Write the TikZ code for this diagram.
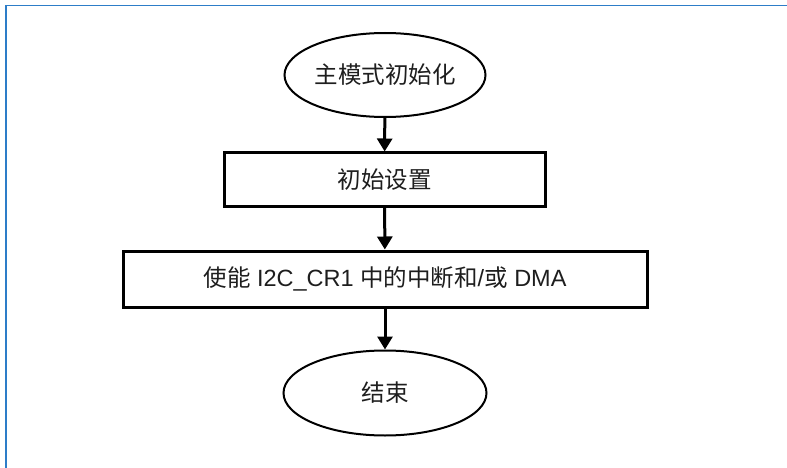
\documentclass[tikz,border=0pt]{standalone}
\usepackage{fontspec}
\setmainfont{Liberation Sans}
\newfontfamily\cjk{Noto Sans CJK SC}
\usetikzlibrary{shapes.geometric,arrows.meta}
\definecolor{framecol}{RGB}{45,125,200}
\definecolor{txt}{RGB}{30,30,30}
\tikzset{
  term/.style={ellipse,draw=black,line width=2pt,inner sep=0pt,
    minimum width=201pt,minimum height=84pt,font=\fontsize{23.5pt}{28pt}\selectfont\cjk,text=txt},
  stepbox/.style={rectangle,draw=black,line width=3pt,inner sep=0pt,
    font=\fontsize{23.5pt}{28pt}\selectfont,text=txt},
  flow/.style={line width=3pt,-{Triangle[length=13pt,width=15pt]}}
}
\begin{document}
\begin{tikzpicture}[x=1pt,y=-1pt]
\useasboundingbox (0,0) rectangle (787,468);
\fill[white] (0,0) rectangle (787,468);
\draw[framecol,line width=1.6pt] (6,470) -- (6,5.5) -- (790,5.5);
\node[term] (start) at (385,75) {主模式初始化};
\node[stepbox,minimum width=321pt,minimum height=53pt] (init) at (384.5,179.5) {\cjk 初始设置};
\node[stepbox,minimum width=524pt,minimum height=56pt] (enable) at (385,279)
  {{\cjk 使能} I2C\_CR1 {\cjk 中的中断和}/{\cjk 或} DMA};
\node[term,minimum width=203pt,minimum height=85pt] (end) at (385,393) {结束};
\draw[flow] (start) -- (init);
\draw[flow] (init) -- (enable);
\draw[flow] (enable) -- (end);
\end{tikzpicture}
\end{document}
